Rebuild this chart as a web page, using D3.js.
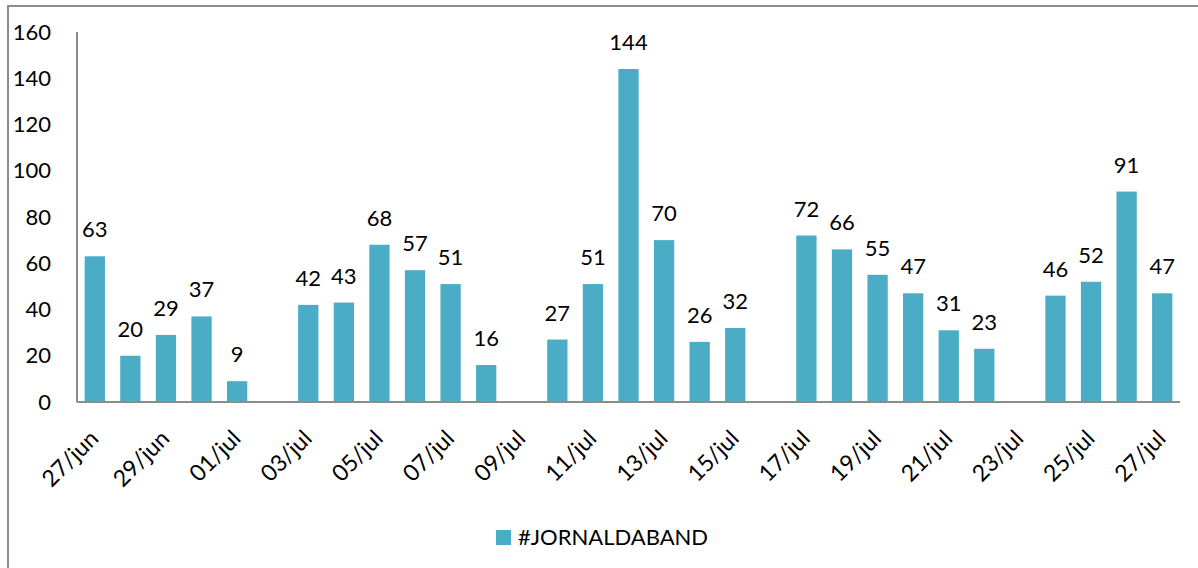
<!DOCTYPE html>
<html><head><meta charset="utf-8">
<script src="https://cdn.jsdelivr.net/npm/d3@7"></script>
<style>body{margin:0;background:#fff;}svg{display:block;}</style>
</head><body>
<svg id="c" width="1198" height="568"></svg>
<script>
const categories = ["27/jun","28/jun","29/jun","30/jun","01/jul","02/jul","03/jul","04/jul","05/jul","06/jul","07/jul","08/jul","09/jul","10/jul","11/jul","12/jul","13/jul","14/jul","15/jul","16/jul","17/jul","18/jul","19/jul","20/jul","21/jul","22/jul","23/jul","24/jul","25/jul","26/jul","27/jul"];
const values = [63,20,29,37,9,null,42,43,68,57,51,16,null,27,51,144,70,26,32,null,72,66,55,47,31,23,null,46,52,91,47];
const tickLabels = ["27/jun","29/jun","01/jul","03/jul","05/jul","07/jul","09/jul","11/jul","13/jul","15/jul","17/jul","19/jul","21/jul","23/jul","25/jul","27/jul"];
const yTicks = [0,20,40,60,80,100,120,140,160];
const seriesName = "#JORNALDABAND";

const FONT = "Lato, 'Open Sans', sans-serif";
const COLOR = "#4BACC6";
const svg = d3.select("#c");

// outer border
svg.append("path").attr("d","M8,1000 L8,6 L1300,6").attr("fill","none").attr("stroke","#8c8c8c").attr("stroke-width",2);

const x = d3.scaleBand().domain(categories).range([77,1180]).paddingInner(0.43).paddingOuter(0.215);
const y = d3.scaleLinear().domain([0,160]).range([402,32]);

const data = categories.map((c,i)=>({c, v: values[i]})).filter(d=>d.v!=null);

svg.append("g").selectAll("rect").data(data).join("rect")
  .attr("x", d=>x(d.c)).attr("width", x.bandwidth())
  .attr("y", d=>y(d.v)).attr("height", d=>y(0)-y(d.v))
  .attr("fill", COLOR);

svg.append("g").selectAll("text").data(data).join("text")
  .attr("x", d=>x(d.c)+x.bandwidth()/2).attr("y", d=>y(d.v)-19)
  .attr("text-anchor","middle").attr("font-family",FONT).attr("font-size",22).attr("fill","#000")
  .text(d=>d.v);

// y axis
const yAxis = d3.axisLeft(y).tickValues(yTicks).tickSize(0).tickPadding(26);
const gy = svg.append("g").attr("transform","translate(77,0)").call(yAxis);
gy.select(".domain").attr("stroke","#8c8c8c").attr("stroke-width",2).attr("d","M0,32V402");
gy.selectAll("text").attr("font-family",FONT).attr("font-size",22).attr("fill","#000");

// x axis
const xAxis = d3.axisBottom(x).tickValues(tickLabels).tickSize(0).tickPadding(0);
const gx = svg.append("g").attr("transform","translate(0,402)").call(xAxis);
gx.select(".domain").attr("stroke","#8c8c8c").attr("stroke-width",2).attr("d","M77,0H1180");
gx.selectAll("text").attr("font-family",FONT).attr("font-size",23).attr("fill","#000")
  .attr("text-anchor","end").attr("dy",null).attr("y",0)
  .attr("transform","translate(5,38) rotate(-45)");

// legend
const lg = svg.append("g");
lg.append("rect").attr("x",496).attr("y",530).attr("width",15).attr("height",15).attr("fill",COLOR);
lg.append("text").attr("x",518).attr("y",545).attr("font-family",FONT).attr("font-size",22).attr("fill","#000").text(seriesName);
</script>
</body></html>
